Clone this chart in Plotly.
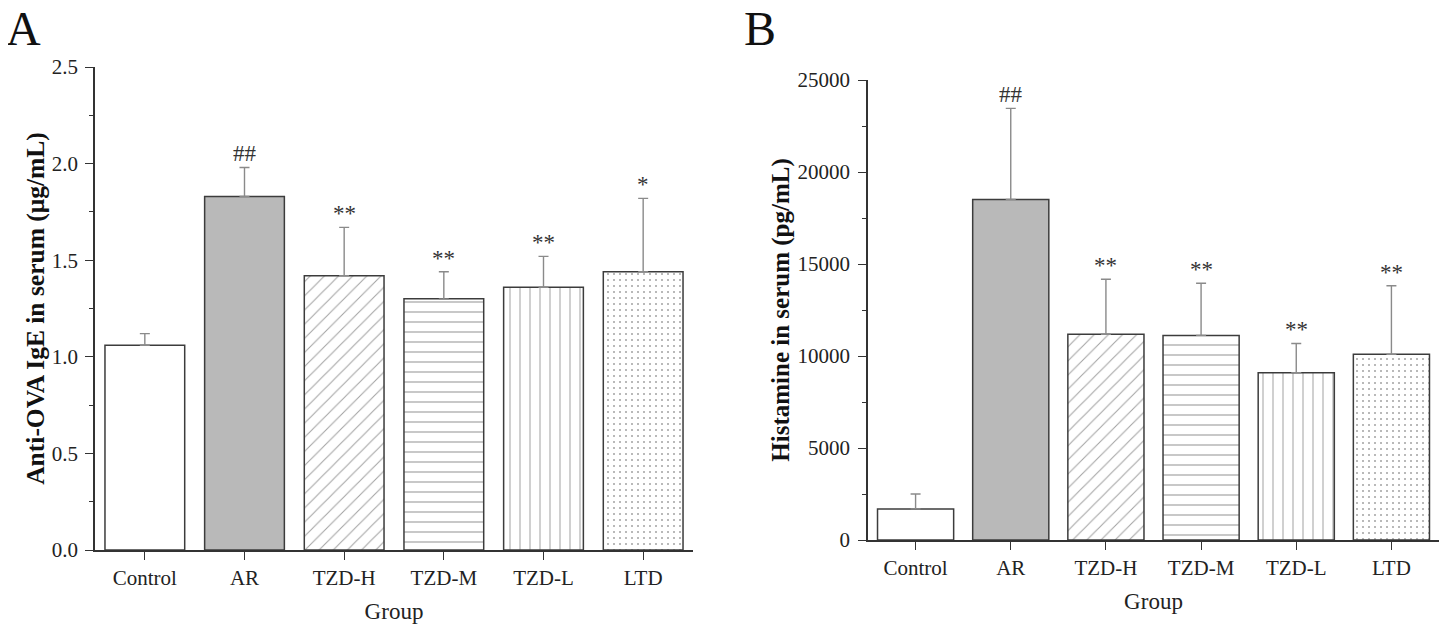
import plotly.graph_objects as go

groups = ["Control", "AR", "TZD-H", "TZD-M", "TZD-L", "LTD"]

# Panel A: Anti-OVA IgE (µg/mL)
ige_mean = [1.06, 1.83, 1.42, 1.30, 1.36, 1.44]
ige_err = [0.06, 0.15, 0.25, 0.14, 0.16, 0.38]
ige_sig = ["", "##", "**", "**", "**", "*"]

# Panel B: Histamine (pg/mL)
his_mean = [1690, 18510, 11180, 11120, 9090, 10090]
his_err = [810, 4950, 2990, 2830, 1590, 3730]
his_sig = ["", "##", "**", "**", "**", "**"]

fills = ["white", "#b9b9b9", "white", "white", "white", "white"]
shapes = ["", "", "/", "-", "|", "."]
psizes = [8, 8, 10, 10, 10, 6]
psolid = [0.2, 0.2, 0.1, 0.12, 0.1, 0.09]

SERIF = "Liberation Serif, Times New Roman, serif"
DARK = "#333333"

# figure is drawn inside the page's 8px body margin
W, H = 1439, 619

fig = go.Figure()


def add_panel(means, errs, xa, ya):
    fig.add_trace(go.Bar(
        x=groups, y=means, xaxis=xa, yaxis=ya, width=0.8,
        marker=dict(
            color=fills,
            line=dict(color="#3c3c3c", width=1.5),
            pattern=dict(shape=shapes, size=psizes, solidity=psolid,
                         fgcolor="#666666", fillmode="overlay"),
        ),
        error_y=dict(type="data", symmetric=False, array=errs,
                     arrayminus=[0] * len(errs), color="#8a8a8a",
                     thickness=1.4, width=5),
        showlegend=False, hoverinfo="skip",
    ))


add_panel(ige_mean, ige_err, "x", "y")
add_panel(his_mean, his_err, "x2", "y2")

annotations = []
for xa, ya, means, errs, sig in [("x", "y", ige_mean, ige_err, ige_sig),
                                   ("x2", "y2", his_mean, his_err, his_sig)]:
    for g, m, e, s in zip(groups, means, errs, sig):
        if s:
            annotations.append(dict(
                x=g, y=m + e, xref=xa, yref=ya, text=s, showarrow=False,
                yanchor="bottom", yshift=-1,
                font=dict(family=SERIF, size=23, color=DARK)))

annotations += [
    dict(x=-4 / W, y=1 + 8 / H, xref="paper", yref="paper", text="A",
         showarrow=False, xanchor="left", yanchor="top",
         font=dict(family=SERIF, size=48, color="#111111")),
    dict(x=734 / W, y=1 + 8 / H, xref="paper", yref="paper", text="B",
         showarrow=False, xanchor="left", yanchor="top",
         font=dict(family=SERIF, size=48, color="#111111")),
]

axis_common = dict(showline=True, linecolor=DARK, linewidth=1.5,
                   ticks="outside", ticklen=8, tickwidth=1.3, tickcolor=DARK,
                   showgrid=False, zeroline=False, automargin=False,
                   tickfont=dict(family=SERIF, size=21, color="#222222"))

fig.update_layout(
    width=W, height=H,
    margin=dict(l=0, r=0, t=0, b=0, autoexpand=False),
    paper_bgcolor="white", plot_bgcolor="white",
    bargap=0.2,
    xaxis=dict(domain=[87 / W, 685 / W], range=[-0.5, 5.5],
               type="category", anchor="y",
               title=dict(text="Group", standoff=14,
                          font=dict(family=SERIF, size=23, color="#222222")),
               **axis_common),
    yaxis=dict(domain=[77 / H, 560 / H], range=[0, 2.5], anchor="x",
               tickvals=[0, 0.5, 1.0, 1.5, 2.0, 2.5], tickformat=".1f",
               ticklabelstandoff=3,
               minor=dict(dtick=0.25, tick0=0, ticks="outside", ticklen=4,
                          tickcolor=DARK, tickwidth=1.2),
               title=dict(text="<b>Anti-OVA IgE in serum (μg/mL)</b>", standoff=0,
                          font=dict(family=SERIF, size=25.5, color="#111111")),
               **axis_common),
    xaxis2=dict(domain=[860 / W, 1431 / W], range=[-0.5, 5.5],
                type="category", anchor="y2",
                title=dict(text="Group", standoff=14,
                           font=dict(family=SERIF, size=23, color="#222222")),
                **axis_common),
    yaxis2=dict(domain=[87 / H, 547 / H], range=[0, 25000], anchor="x2",
                tickvals=[0, 5000, 10000, 15000, 20000, 25000], tickformat="d",
                ticklabelstandoff=4,
                minor=dict(dtick=2500, tick0=0, ticks="outside", ticklen=4,
                           tickcolor=DARK, tickwidth=1.2),
                title=dict(text="<b>Histamine in serum (pg/mL)</b>", standoff=1,
                           font=dict(family=SERIF, size=25, color="#111111")),
                **axis_common),
    annotations=annotations,
)

fig.write_html("out.html")
